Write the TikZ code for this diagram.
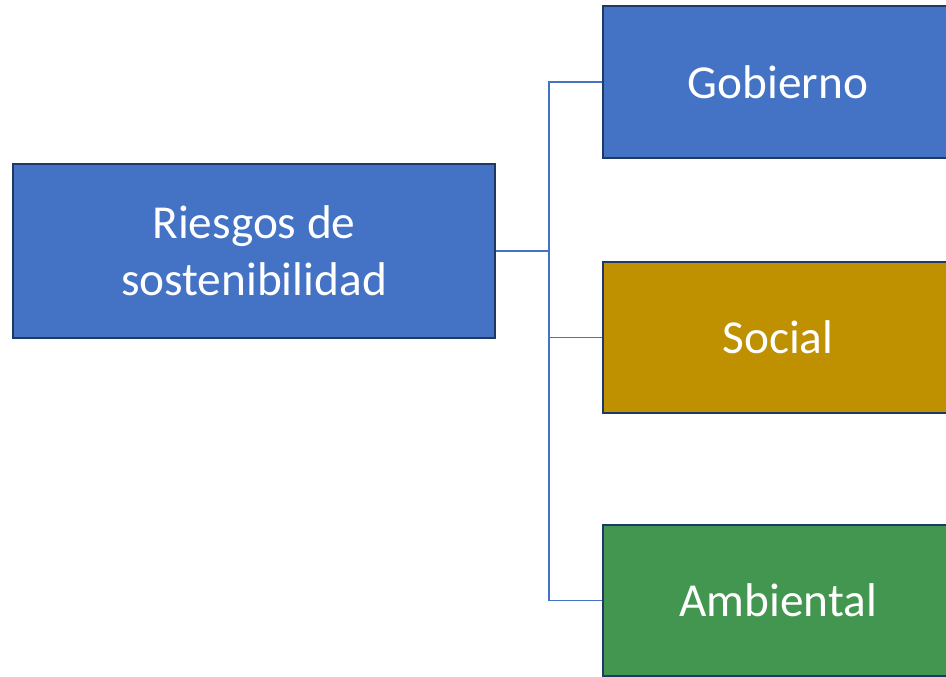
\documentclass[tikz,border=0pt]{standalone}
\usepackage{fontspec}
\setmainfont{Carlito}
\definecolor{boxblue}{HTML}{4472C4}
\definecolor{boxgold}{HTML}{BF9000}
\definecolor{boxgreen}{HTML}{43964F}
\definecolor{edgenavy}{HTML}{1F3864}
\definecolor{linkblue}{HTML}{4472C4}
\begin{document}
\begin{tikzpicture}[x=0.75pt,y=-0.75pt,
  box/.style={draw=edgenavy,line width=1.5pt,rectangle,inner sep=0pt,text=white,
    font=\fontsize{35.5}{42.75}\selectfont,align=center},
  link/.style={draw=linkblue,line width=0.8pt}]
\useasboundingbox (0,0) rectangle (946,677);
\clip (0,0) rectangle (946,677);
\fill[white] (0,0) rectangle (946,677);
\node[box,fill=boxblue,minimum width=361.5pt,minimum height=130.5pt] (root) at (254,251) {Riesgos de\\sostenibilidad};
\node[box,fill=boxblue,minimum width=262.5pt,minimum height=114pt] (gob) at (778,82) {Gobierno};
\node[box,fill=boxgold,minimum width=262.5pt,minimum height=113.25pt] (soc) at (778,337.5) {Social};
\node[box,fill=boxgreen,minimum width=262.5pt,minimum height=113.25pt] (amb) at (778,600.5) {Ambiental};
\coordinate (j) at (549,251);
\draw[link] (root.east) -- (j);
\draw[link] (j) |- (gob.west);
\draw[link] (j) |- (soc.west);
\draw[link] (j) |- (amb.west);
\end{tikzpicture}
\end{document}
